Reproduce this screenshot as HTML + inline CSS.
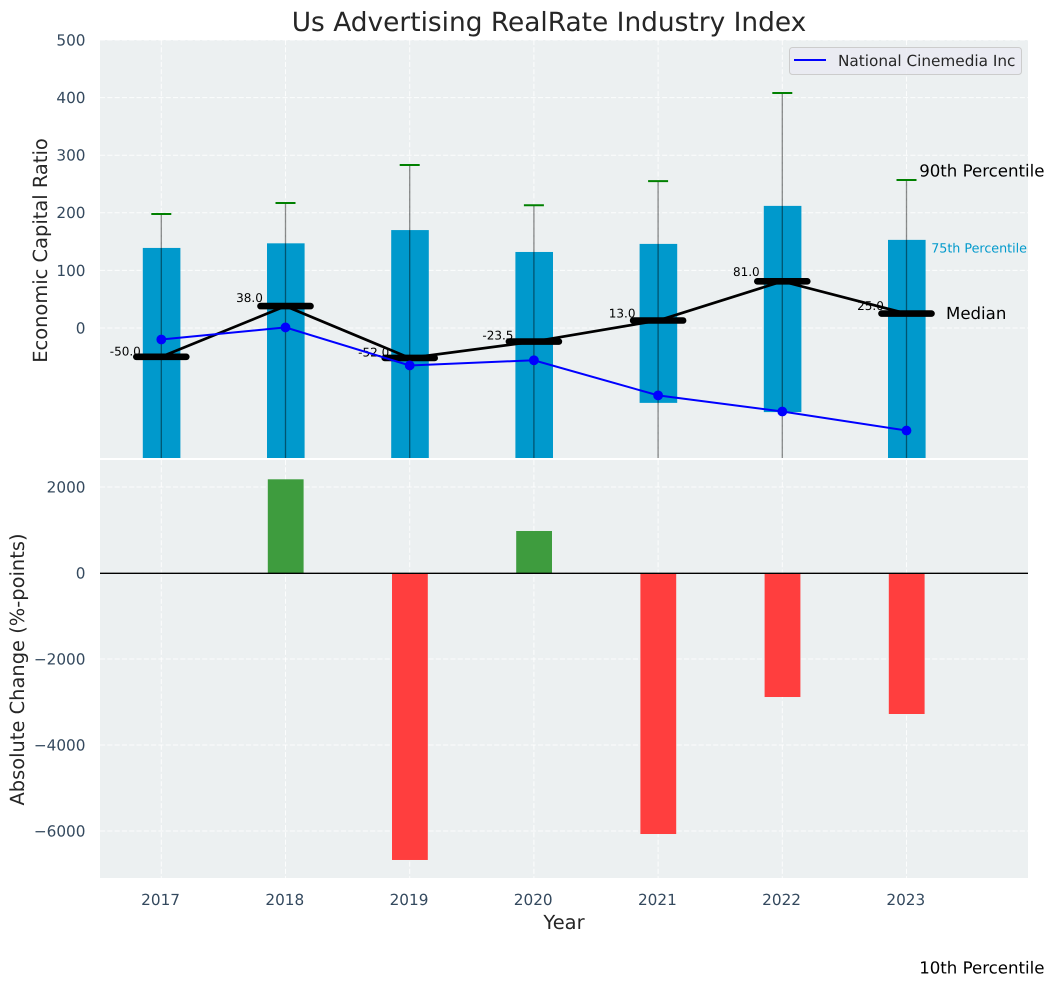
<!DOCTYPE html>
<html>
<head>
<meta charset="utf-8">
<title>Us Advertising RealRate Industry Index</title>
<style>
html,body{margin:0;padding:0;background:#fff;}
svg{display:block;font-family:"DejaVu Sans","Liberation Sans",sans-serif;text-rendering:geometricPrecision;}
</style>
</head>
<body>
<svg id="chart" xmlns="http://www.w3.org/2000/svg" width="1054" height="987" viewBox="0 0 1054 987">
  <defs>
    <clipPath id="top-clip"><rect x="100" y="40" width="928" height="418"/></clipPath>
    <clipPath id="bottom-clip"><rect x="100" y="460" width="928" height="418"/></clipPath>
  </defs>
  <rect x="0" y="0" width="1054" height="987" fill="#ffffff"/>
  <rect x="100" y="40" width="928" height="418" fill="#ecf0f1"/>
  <rect x="100" y="460" width="928" height="418" fill="#ecf0f1"/>
  <g id="grid"></g>
  <g id="top-marks" clip-path="url(#top-clip)"></g>
  <g id="bottom-marks" clip-path="url(#bottom-clip)"></g>
  <g id="ticks"></g>
  <g id="notes"></g>
  <text x="549" y="31" text-anchor="middle" font-size="26.4" fill="#262626">Us Advertising RealRate Industry Index</text>
  <text transform="translate(47,250.5) rotate(-90)" text-anchor="middle" font-size="19.44" fill="#262626">Economic Capital Ratio</text>
  <text transform="translate(24,669.5) rotate(-90)" text-anchor="middle" font-size="19.44" fill="#262626">Absolute Change (%-points)</text>
  <text x="564" y="929" text-anchor="middle" font-size="19.44" fill="#262626">Year</text>
  <g>
    <rect x="789.5" y="47.5" width="232" height="27" rx="3" fill="#eaeaf2" fill-opacity="0.85" stroke="#cccccc"/>
    <line x1="794" y1="60" x2="826" y2="60" stroke="#0000ff" stroke-width="2"/>
    <text x="838" y="66" font-size="15.28" fill="#262626">National Cinemedia Inc</text>
  </g>
</svg>
<script>
const years = [2017, 2018, 2019, 2020, 2021, 2022, 2023];
const p90 = [198, 217, 283, 213, 255, 408, 257];
const p75 = [139, 147, 170, 132, 146, 212, 153];
const medians = [-50, 38, -52, -23.5, 13, 81, 25];
const p25 = [-300, -300, -300, -300, -130, -146, -300];
const p10 = [-700, -600, -800, -650, -750, -900, -1111];
const company = [-20, 1, -65, -56, -117, -145, -178];
const changes = [0, 2179, -6674, 977, -6070, -2884, -3279];
const topTicks = [0, 100, 200, 300, 400, 500];
const bottomTicks = [-6000, -4000, -2000, 0, 2000];

const NS = 'http://www.w3.org/2000/svg';
function xScale(year) { return 161.3 + (year - 2017) * 124.2; }
function yTop(v) { return 328 - v * 0.576; }
function yBottom(v) { return 573 - v * 0.043; }
function mk(tag, attrs, parent, text) {
  const el = document.createElementNS(NS, tag);
  for (const k in attrs) el.setAttribute(k, attrs[k]);
  if (text !== undefined) el.textContent = text;
  parent.appendChild(el);
  return el;
}
const grid = document.getElementById('grid');
const topMarks = document.getElementById('top-marks');
const bottomMarks = document.getElementById('bottom-marks');
const ticks = document.getElementById('ticks');
const notes = document.getElementById('notes');
const tickColor = '#34495e';
const gridStyle = { stroke: '#ffffff', 'stroke-width': 1, 'stroke-opacity': 0.85, 'stroke-dasharray': '5.1,2.2' };

years.forEach(function (year) {
  const x = xScale(year);
  const g1 = mk('line', Object.assign({ x1: x, x2: x, y1: 40, y2: 458 }, gridStyle), grid);
  
  
  const g2 = mk('line', Object.assign({ x1: x, x2: x, y1: 460, y2: 878 }, gridStyle), grid);
  
  
  const t = mk('text', { x: x - 0.7, y: 905, 'text-anchor': 'middle', 'font-size': 15.28, fill: tickColor }, ticks, String(year));
  
  
});
topTicks.forEach(function (v) {
  const y = yTop(v);
  const g = mk('line', Object.assign({ x1: 100, x2: 1028, y1: y, y2: y }, gridStyle), grid);
  
  
  const t = mk('text', { x: 85.5, y: y + 5.4, 'text-anchor': 'end', 'font-size': 15.28, fill: tickColor }, ticks, String(v));
  
  
});
bottomTicks.forEach(function (v) {
  const y = yBottom(v);
  const g = mk('line', Object.assign({ x1: 100, x2: 1028, y1: y, y2: y }, gridStyle), grid);
  
  
  const label = v < 0 ? '\u2212' + Math.abs(v) : String(v);
  const t = mk('text', { x: 85.5, y: y + 5.4, 'text-anchor': 'end', 'font-size': 15.28, fill: tickColor }, ticks, label);
  
  
});

// Percentile boxes
years.forEach(function (year, i) {
  const x = xScale(year);
  const bar = mk('rect', { x: x - 18.5, y: yTop(p75[i]), width: 37.6, height: yTop(p25[i]) - yTop(p75[i]), fill: '#0099cc' }, topMarks);
  
  
});
// Value annotations drawn under the medians
years.forEach(function (year, i) {
  const m = medians[i];
  const t = mk('text', { x: xScale(year) - 36, y: yTop(m * 1.05 + 5), 'text-anchor': 'middle', 'font-size': 12, fill: '#000000' }, notes, m.toFixed(1));
  
  
});
// Whiskers and caps
years.forEach(function (year, i) {
  const x = xScale(year);
  const w = mk('line', { x1: x, x2: x, y1: yTop(p90[i]), y2: yTop(p10[i]), stroke: '#000000', 'stroke-opacity': 0.45, 'stroke-width': 1.3 }, topMarks);
  
  
  const c = mk('line', { x1: x - 10, x2: x + 10, y1: yTop(p90[i]), y2: yTop(p90[i]), stroke: '#008000', 'stroke-width': 2 }, topMarks);
  
  
});
// Median trend line
const overlay = mk('g', {}, document.getElementById('chart'));


const medianPts = years.map(function (y, i) { return xScale(y) + ',' + yTop(medians[i]); }).join(' ');
const medianLine = mk('polyline', { points: medianPts, fill: 'none', stroke: '#000000', 'stroke-width': 2.7 }, overlay);


years.forEach(function (year, i) {
  const x = xScale(year);
  const y = yTop(medians[i]);
  const seg = mk('line', { x1: x - 25, x2: x + 25, y1: y, y2: y, stroke: '#000000', 'stroke-width': 6.6, 'stroke-linecap': 'round' }, overlay);
  
  
});
// Company line
const companyPts = years.map(function (y, i) { return xScale(y) + ',' + yTop(company[i]); }).join(' ');
const companyLine = mk('polyline', { points: companyPts, fill: 'none', stroke: '#0000ff', 'stroke-width': 2 }, overlay);


years.forEach(function (year, i) {
  const pt = mk('circle', { cx: xScale(year), cy: yTop(company[i]), r: 4.9, fill: '#0000ff' }, overlay);
  
  
});
// Change bars
years.forEach(function (year, i) {
  const v = changes[i];
  if (v === 0) return;
  const x = xScale(year);
  const top = Math.min(yBottom(v), yBottom(0));
  const h = Math.abs(yBottom(v) - yBottom(0));
  const bar = mk('rect', { x: x - 17.7, y: top, width: 35.8, height: h, fill: v >= 0 ? '#3e9c3e' : '#ff3e3e' }, bottomMarks);
  
  
});
const zero = mk('line', { x1: 100, x2: 1028, y1: yBottom(0) + 0.3, y2: yBottom(0) + 0.3, stroke: '#000000', 'stroke-width': 1.3 }, bottomMarks);



// Percentile callouts anchored to the last year
const last = years.length - 1;
const lastX = xScale(years[last]);
const n90 = mk('text', { x: lastX + 12.7, y: yTop(p90[last]) - 3.5, 'font-size': 16.6, fill: '#000000' }, notes, '90th Percentile');


const n75 = mk('text', { x: lastX + 24.7, y: yTop(p75[last]) + 12.5, 'font-size': 12.7, fill: '#0099cc' }, notes, '75th Percentile');


const nMed = mk('text', { x: lastX + 39.5, y: yTop(medians[last]) + 5.5, 'font-size': 16.6, fill: '#000000' }, notes, 'Median');


const n10 = mk('text', { x: lastX + 12.7, y: yTop(p10[last]) + 5.5, 'font-size': 16.6, fill: '#000000' }, notes, '10th Percentile');


</script>
</body>
</html>
